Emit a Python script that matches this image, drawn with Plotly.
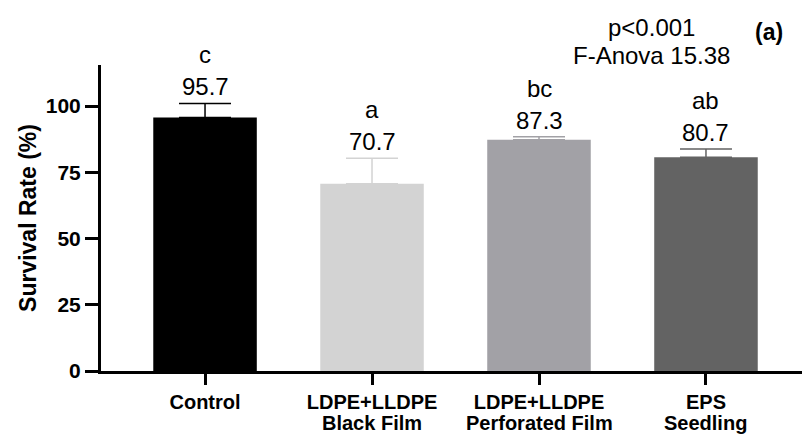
import plotly.graph_objects as go

cat_line1 = ["Control", "LDPE+LLDPE", "LDPE+LLDPE", "EPS"]
cat_line2 = ["", "Black Film", "Perforated Film", "Seedling"]
means = [95.7, 70.7, 87.3, 80.7]
errors = [5.3, 9.6, 1.1, 3.1]
letters = ["c", "a", "bc", "ab"]
colors = ["#000000", "#d3d3d3", "#a2a1a6", "#636363"]
y_ticks = [0, 25, 50, 75, 100]

FONT = "Arial, Liberation Sans, sans-serif"
categories = [a + ("\n" + b if b else "") for a, b in zip(cat_line1, cat_line2)]

fig = go.Figure()
for i, cat in enumerate(categories):
    fig.add_trace(go.Bar(
        x=[cat], y=[means[i]],
        marker=dict(color=colors[i], line=dict(width=0)),
        width=0.62,
        error_y=dict(type="data", array=[errors[i]], arrayminus=[0], symmetric=False,
                     color=colors[i], thickness=1.5, width=26),
        showlegend=False,
    ))
    fig.add_annotation(x=cat, y=means[i] + errors[i], text=f"{means[i]:.1f}",
                       yanchor="bottom", showarrow=False, yshift=1,
                       font=dict(family=FONT, size=24, color="#000"))
    fig.add_annotation(x=cat, y=means[i] + errors[i], text=letters[i],
                       yanchor="bottom", showarrow=False, yshift=33,
                       font=dict(family=FONT, size=24, color="#000"))
    if cat_line2[i]:
        fig.add_annotation(x=cat, yref="paper", y=0, text=f"<b>{cat_line2[i]}</b>",
                           yanchor="middle", showarrow=False, yshift=-52,
                           font=dict(family=FONT, size=20, color="#000"))

fig.add_annotation(xref="paper", yref="paper", x=0.786, y=1.0, text="p<0.001",
                   xanchor="center", yanchor="middle", showarrow=False, yshift=38,
                   font=dict(family=FONT, size=24, color="#000"))
fig.add_annotation(xref="paper", yref="paper", x=0.786, y=1.0, text="F-Anova 15.38",
                   xanchor="center", yanchor="middle", showarrow=False, yshift=10,
                   font=dict(family=FONT, size=24, color="#000"))
fig.add_annotation(xref="paper", yref="paper", x=0.953, y=1.0, text="<b>(a)</b>",
                   xanchor="center", yanchor="middle", showarrow=False, yshift=33,
                   font=dict(family=FONT, size=23, color="#000"))

fig.update_layout(
    width=802, height=434,
    margin=dict(l=101, r=0, t=65, b=63),
    plot_bgcolor="white", paper_bgcolor="white",
    barmode="overlay",
    font=dict(family=FONT, color="#000"),
)
fig.update_xaxes(range=[-0.623, 3.575], showline=True, linewidth=3, linecolor="black",
                 tickmode="array", tickvals=categories, ticktext=cat_line1,
                 ticks="outside", ticklen=11, tickwidth=3, tickcolor="black",
                 tickfont=dict(family=FONT, size=20, color="#000", weight="bold"),
                 showgrid=False, zeroline=False, automargin=False)
fig.update_yaxes(range=[0, 115.5], tickvals=y_ticks, showline=True, linewidth=3, linecolor="black",
                 ticks="outside", ticklen=13, tickwidth=3, tickcolor="black",
                 tickfont=dict(family=FONT, size=21, color="#000", weight="bold"),
                 title=dict(text="<b>Survival Rate (%)</b>", font=dict(family=FONT, size=23, color="#000"), standoff=3),
                 showgrid=False, zeroline=False, automargin=False)

fig.write_html("out.html")
